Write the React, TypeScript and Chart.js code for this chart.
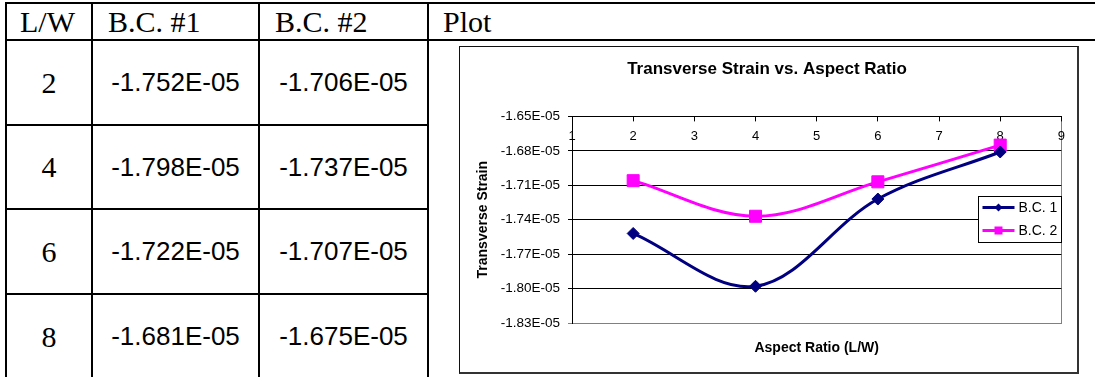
import React, { useEffect, useRef } from "react";
import { Chart, registerables } from "chart.js";

Chart.register(...registerables);

// ---- data ----
const aspectRatios = [2, 4, 6, 8];
const bc1Values = [-1.752e-5, -1.798e-5, -1.722e-5, -1.681e-5];
const bc2Values = [-1.706e-5, -1.737e-5, -1.707e-5, -1.675e-5];
const seriesLabels = ["B.C. 1", "B.C. 2"];
const xTickValues = [1, 2, 3, 4, 5, 6, 7, 8, 9];
const yTickValues = [-1.65e-5, -1.68e-5, -1.71e-5, -1.74e-5, -1.77e-5, -1.8e-5, -1.83e-5];
const tableHeaders = ["L/W", "B.C. #1", "B.C. #2", "Plot"];
const chartTitle = "Transverse Strain vs. Aspect Ratio";
const xAxisTitle = "Aspect Ratio (L/W)";
const yAxisTitle = "Transverse Strain";

const SANS = '"Liberation Sans", Arial, sans-serif';
const SERIF = '"Liberation Serif", "Times New Roman", serif';

function fmtE(v: number, digits: number): string {
  const s = Number(v).toExponential(digits);
  const [m, e] = s.split("e");
  const sign = e.startsWith("-") ? "-" : "+";
  const num = e.replace(/^[-+]/, "").padStart(2, "0");
  return `${m}E${sign}${num}`;
}

const colors = ["#000080", "#FF00FF"];

function drawMarker(ctx: CanvasRenderingContext2D, kind: string, x: number, y: number, r: number, color: string) {
  ctx.save();
  ctx.fillStyle = color;
  ctx.beginPath();
  if (kind === "diamond") {
    ctx.moveTo(x - r, y);
    ctx.lineTo(x, y - r);
    ctx.lineTo(x + r, y);
    ctx.lineTo(x, y + r);
    ctx.closePath();
  } else {
    ctx.rect(x - r, y - r, 2 * r, 2 * r);
  }
  ctx.fill();
  ctx.restore();
}

const decorPlugin = {
  id: "decor",
  beforeDraw(chart: any) {
    const { ctx, chartArea } = chart;
    ctx.save();
    ctx.strokeStyle = "#808080";
    ctx.lineWidth = 1;
    ctx.strokeRect(
      Math.round(chartArea.left) + 0.5,
      Math.round(chartArea.top) + 0.5,
      Math.round(chartArea.right - chartArea.left),
      Math.round(chartArea.bottom - chartArea.top)
    );
    ctx.restore();
  },
  afterDraw(chart: any) {
    const { ctx, chartArea } = chart;
    ctx.save();
    // axis titles
    ctx.fillStyle = "#000";
    ctx.font = `bold 14px ${SANS}`;
    ctx.textAlign = "center";
    ctx.textBaseline = "middle";
    ctx.fillText(xAxisTitle, (chartArea.left + chartArea.right) / 2, chartArea.bottom + 25);
    ctx.save();
    ctx.translate(23, (chartArea.top + chartArea.bottom) / 2);
    ctx.rotate(-Math.PI / 2);
    ctx.fillText(yAxisTitle, 0, 0);
    ctx.restore();

    // legend box
    const bw = 83;
    const bh = 46;
    const bx = Math.round(chartArea.right - bw) + 0.5;
    const by = Math.round(chartArea.top + 80) + 0.5;
    ctx.fillStyle = "#fff";
    ctx.fillRect(bx, by, bw, bh);
    ctx.strokeStyle = "#000";
    ctx.lineWidth = 1;
    ctx.strokeRect(bx, by, bw, bh);
    seriesLabels.forEach((label, i) => {
      const ly = by + 11 + i * 23;
      ctx.strokeStyle = colors[i];
      ctx.lineWidth = 3;
      ctx.beginPath();
      ctx.moveTo(bx + 4, ly);
      ctx.lineTo(bx + 36, ly);
      ctx.stroke();
      drawMarker(ctx, i === 0 ? "diamond" : "square", bx + 20, ly, i === 0 ? 4 : 4, colors[i]);
      ctx.fillStyle = "#000";
      ctx.font = `14px ${SANS}`;
      ctx.textAlign = "left";
      ctx.textBaseline = "middle";
      ctx.fillText(label, bx + 40, ly + 1);
    });
    ctx.restore();
  },
};

function StrainChart() {
  const ref = useRef<HTMLCanvasElement | null>(null);
  useEffect(() => {
    if (!ref.current) return;
    Chart.defaults.font.family = SANS;
    const chart = new Chart(ref.current, {
      type: "line",
      data: {
        datasets: [
          {
            label: seriesLabels[0],
            data: aspectRatios.map((x, i) => ({ x, y: bc1Values[i] })),
            borderColor: colors[0],
            backgroundColor: colors[0],
            borderWidth: 3,
            pointStyle: "rectRot",
            pointRadius: 6,
            pointBorderWidth: 1,
            tension: 0.35,
          },
          {
            label: seriesLabels[1],
            data: aspectRatios.map((x, i) => ({ x, y: bc2Values[i] })),
            borderColor: colors[1],
            backgroundColor: colors[1],
            borderWidth: 3,
            pointStyle: "rect",
            pointRadius: 8.5,
            pointBorderWidth: 1,
            tension: 0.35,
          },
        ],
      },
      options: {
        animation: false,
        responsive: false,
        maintainAspectRatio: false,
        layout: { padding: { left: 0, right: 3, top: 0, bottom: 49 } },
        plugins: {
          legend: { display: false },
          tooltip: { enabled: false },
          title: {
            display: true,
            text: chartTitle,
            color: "#000",
            font: { family: SANS, size: 17, weight: "bold" },
            padding: { top: 12, bottom: 10 },
          },
        },
        scales: {
          x: {
            type: "linear",
            position: "top",
            min: 1,
            max: 9,
            afterBuildTicks: (s: any) => {
              s.ticks = xTickValues.map((v) => ({ value: v }));
            },
            afterFit: (s: any) => {
              s.height = 27;
            },
            ticks: {
              mirror: true,
              padding: 12,
              color: "#000",
              font: { family: SANS, size: 13 },
              maxRotation: 0,
              autoSkip: false,
              callback: (v: any) => String(v),
            },
            grid: { drawOnChartArea: false, drawTicks: true, tickLength: -5, color: "#000" },
            border: { color: "#000", width: 1 },
          },
          y: {
            type: "linear",
            min: yTickValues[yTickValues.length - 1],
            max: yTickValues[0],
            afterBuildTicks: (s: any) => {
              s.ticks = yTickValues.map((v) => ({ value: v }));
            },
            afterFit: (s: any) => {
              s.width = 112;
            },
            ticks: {
              color: "#000",
              font: { family: SANS, size: 13.5 },
              padding: 8,
              callback: (v: any) => fmtE(v, 2),
            },
            grid: {
              color: (c: any) => (c.tick && Math.abs(c.tick.value - yTickValues[yTickValues.length - 1]) < 1e-12 ? "#808080" : "#000"),
              tickLength: 4,
            },
            border: { color: "#000", width: 1 },
          },
        },
      },
      plugins: [decorPlugin],
    } as any);
    return () => chart.destroy();
  }, []);
  return <canvas ref={ref} width={617} height={325} style={{ display: "block", width: 617, height: 325 }} />;
}

const hLine = (top: number, left: number, width: number) => (
  <div style={{ position: "absolute", top, left, width, height: 2, background: "#000" }} />
);
const vLine = (left: number, top: number, height: number) => (
  <div style={{ position: "absolute", top, left, width: 2, height, background: "#000" }} />
);

export default function App() {
  const colX = [5, 91, 258, 427];
  const rowY = [39, 124, 208, 293, 378];
  const headerLeft = [20, 108, 275, 443];
  return (
    <div style={{ position: "absolute", left: 0, top: 0, width: 1095, height: 377, overflow: "hidden", background: "#fff" }}>
      {hLine(2, 5, 1090)}
      {hLine(39, 5, 1090)}
      {hLine(124, 5, 423)}
      {hLine(208, 5, 423)}
      {hLine(293, 5, 423)}
      {colX.map((x, i) => (
        <React.Fragment key={i}>{vLine(x, 2, 376)}</React.Fragment>
      ))}
      {tableHeaders.map((h, i) => (
        <div key={h} style={{ position: "absolute", left: headerLeft[i], top: 7, fontFamily: SERIF, fontSize: 30, lineHeight: "30px", whiteSpace: "nowrap", color: "#000" }}>
          {h}
        </div>
      ))}
      {aspectRatios.map((lw, r) => {
        const top = rowY[r] + 2;
        const height = rowY[r + 1] - rowY[r] - 2;
        const cells = [
          { text: String(lw), left: colX[0] + 2, right: colX[1], font: SERIF, size: 30 },
          { text: fmtE(bc1Values[r], 3), left: colX[1] + 2, right: colX[2], font: SANS, size: 26 },
          { text: fmtE(bc2Values[r], 3), left: colX[2] + 2, right: colX[3], font: SANS, size: 26 },
        ];
        return cells.map((c, j) => (
          <div key={`${r}-${j}`} style={{ position: "absolute", left: c.left, top, width: c.right - c.left, height, display: "flex", alignItems: "center", justifyContent: "center", fontFamily: c.font, fontSize: c.size, color: "#000", whiteSpace: "nowrap" }}>
            {c.text}
          </div>
        ));
      })}
      <div style={{ position: "absolute", left: 459, top: 46, width: 617, height: 325, borderLeft: "1px solid #111", borderTop: "1px solid #111", borderRight: "2px solid #333", borderBottom: "2px solid #333", background: "#fff" }}>
        <StrainChart />
      </div>
    </div>
  );
}
